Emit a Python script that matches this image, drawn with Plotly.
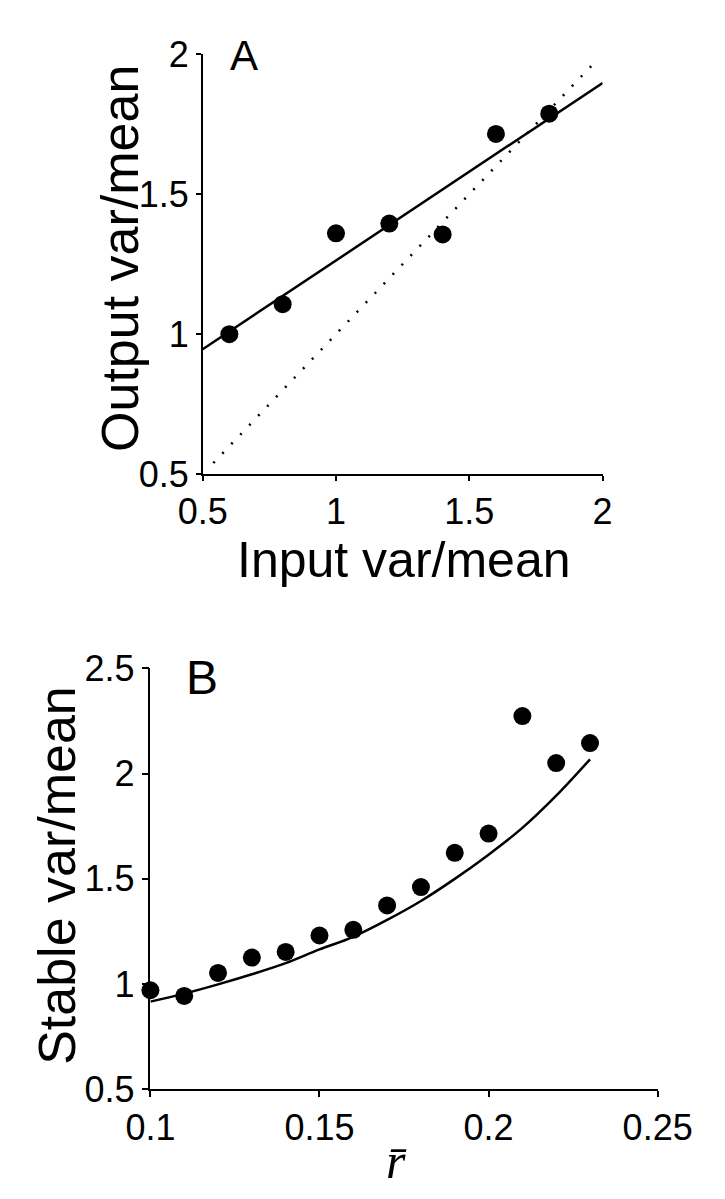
import plotly.graph_objects as go

# ---------------- Panel A data ----------------
a_input = [0.6, 0.8, 1.0, 1.2, 1.4, 1.6, 1.8]
a_output = [1.00, 1.107, 1.36, 1.395, 1.356, 1.715, 1.787]
a_fit_x = [0.5, 2.0]
a_fit_y = [0.946, 1.897]
a_identity_x = [0.54, 1.98]
a_identity_y = [0.54, 1.98]
a_ticks = [0.5, 1, 1.5, 2]
a_ticktext = ["0.5", "1", "1.5", "2"]

# ---------------- Panel B data ----------------
b_r = [0.10, 0.11, 0.12, 0.13, 0.14, 0.15, 0.16, 0.17, 0.18, 0.19, 0.20, 0.21, 0.22, 0.23]
b_stable = [0.971, 0.944, 1.053, 1.126, 1.153, 1.231, 1.258, 1.374, 1.461, 1.624, 1.715, 2.273, 2.050, 2.145]
b_curve_r = [0.10, 0.11, 0.12, 0.13, 0.14, 0.15, 0.16, 0.17, 0.18, 0.19, 0.20, 0.21, 0.22, 0.23]
b_curve_y = [0.917, 0.955, 0.999, 1.047, 1.100, 1.165, 1.225, 1.305, 1.395, 1.500, 1.615, 1.742, 1.895, 2.068]
b_xticks = [0.1, 0.15, 0.2, 0.25]
b_xticktext = ["0.1", "0.15", "0.2", "0.25"]
b_yticks = [0.5, 1, 1.5, 2, 2.5]
b_yticktext = ["0.5", "1", "1.5", "2", "2.5"]

W, H = 725, 1199
SANS = "Liberation Sans, Arial, Helvetica, sans-serif"
TICKFONT = dict(family=SANS, size=36, color="black")
TITLEFONT = dict(family=SANS, size=52, color="black")

def px_x(p):
    return p / W

def px_y(p):
    return 1 - p / H

fig = go.Figure()

# Panel A
fig.add_trace(go.Scatter(x=a_identity_x, y=a_identity_y, mode="lines",
                         line=dict(color="black", width=2.5, dash="2px,11px"),
                         xaxis="x", yaxis="y", showlegend=False))
fig.add_trace(go.Scatter(x=a_fit_x, y=a_fit_y, mode="lines",
                         line=dict(color="black", width=2.5),
                         xaxis="x", yaxis="y", showlegend=False))
fig.add_trace(go.Scatter(x=a_input, y=a_output, mode="markers",
                         marker=dict(color="black", size=18),
                         xaxis="x", yaxis="y", showlegend=False))

# Panel B
fig.add_trace(go.Scatter(x=b_curve_r, y=b_curve_y, mode="lines",
                         line=dict(color="black", width=2.5, shape="spline"),
                         xaxis="x2", yaxis="y2", showlegend=False))
fig.add_trace(go.Scatter(x=b_r, y=b_stable, mode="markers",
                         marker=dict(color="black", size=18),
                         xaxis="x2", yaxis="y2", showlegend=False, cliponaxis=False))

axis_common = dict(showgrid=False, zeroline=False, showline=True, linecolor="black",
                   linewidth=1.5, ticks="outside", tickcolor="black", tickwidth=1.5,
                   tickfont=TICKFONT, mirror=False)

fig.update_layout(
    width=W, height=H,
    margin=dict(l=0, r=0, t=0, b=0),
    paper_bgcolor="white", plot_bgcolor="white",
    xaxis=dict(domain=[px_x(185), px_x(621)], range=[0.5, 2], anchor="y",
               tickvals=a_ticks, ticktext=a_ticktext, ticklen=5, **axis_common),
    yaxis=dict(domain=[px_y(462), px_y(27)], range=[0.5, 2], anchor="x",
               tickvals=a_ticks, ticktext=a_ticktext, ticklen=5, **axis_common),
    xaxis2=dict(domain=[px_x(128), px_x(681)], range=[0.1, 0.25], anchor="y2",
                tickvals=b_xticks, ticktext=b_xticktext, ticklen=6, **axis_common),
    yaxis2=dict(domain=[px_y(1099), px_y(663)], range=[0.5, 2.5], anchor="x2",
                tickvals=b_yticks, ticktext=b_yticktext, ticklen=7, **axis_common),
)

annotations = [
    dict(text="A", x=px_x(230), y=px_y(28), font=dict(family=SANS, size=42, color="black")),
    dict(text="B", x=px_x(184), y=px_y(672), font=dict(family=SANS, size=48, color="black")),
    dict(text="Input var/mean", x=px_x(404), y=px_y(551),
         font=dict(family=SANS, size=50, color="black")),
    dict(text="Output var/mean", x=px_x(95), y=px_y(239), font=TITLEFONT, textangle=-90),
    dict(text="Stable var/mean", x=px_x(26), y=px_y(877), font=TITLEFONT, textangle=-90),
    dict(text="<i>r\u0304</i>", x=px_x(396), y=px_y(1173),
         font=dict(family="Liberation Serif, Times New Roman, serif", size=50, color="black")),
]
for a in annotations:
    a.update(xref="paper", yref="paper", showarrow=False, xanchor="center", yanchor="middle")
fig.update_layout(annotations=annotations)

fig.write_html("out.html")
